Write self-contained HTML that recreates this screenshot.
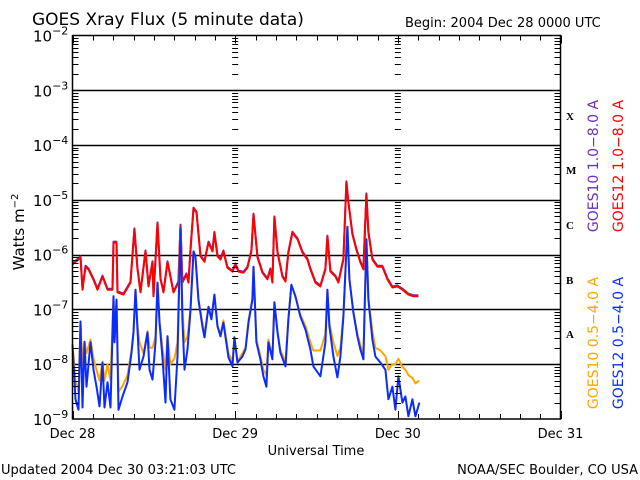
<!DOCTYPE html>
<html><head><meta charset="utf-8"><style>
html,body{margin:0;padding:0;background:#fff;}
svg{display:block;font-family:"DejaVu Sans","Liberation Sans",sans-serif;}
</style></head><body>
<svg id="chart" width="640" height="480" viewBox="0 0 640 480">
<text x="32" y="25" font-size="17" fill="#000">GOES Xray Flux (5 minute data)</text>
<text x="405" y="27" font-size="13" fill="#000">Begin:  2004 Dec 28 0000 UTC</text>
<g id="grid"></g>
<g id="series"></g>
<g id="axes"></g>
<text transform="translate(24,232) rotate(-90)" text-anchor="middle" font-size="15" fill="#000">Watts m<tspan dy="-6" font-size="10">−2</tspan></text>
<text x="316" y="455" text-anchor="middle" font-size="13" fill="#000">Universal Time</text>
<text x="1" y="474" font-size="13" fill="#000">Updated 2004 Dec 30 03:21:03 UTC</text>
<text x="638" y="474" text-anchor="end" font-size="13" fill="#000">NOAA/SEC Boulder, CO USA</text>
<g font-family="'Liberation Serif',serif" font-weight="bold" font-size="11" fill="#000">
<text x="566" y="120">X</text>
<text x="566" y="174">M</text>
<text x="566" y="229">C</text>
<text x="566" y="284">B</text>
<text x="566" y="338">A</text>
</g>
<g font-size="14">
<text transform="translate(598,166) rotate(-90)" text-anchor="middle" fill="#6a2fc4">GOES10 1.0−8.0 A</text>
<text transform="translate(623,166) rotate(-90)" text-anchor="middle" fill="#ff0000">GOES12 1.0−8.0 A</text>
<text transform="translate(598,343) rotate(-90)" text-anchor="middle" fill="#ffa500">GOES10 0.5−4.0 A</text>
<text transform="translate(623,343) rotate(-90)" text-anchor="middle" fill="#0a2cff">GOES12 0.5−4.0 A</text>
</g>
</svg>
<script>
const dayLabels = ["Dec 28","Dec 29","Dec 30","Dec 31"];
const decadeExps = [-2,-3,-4,-5,-6,-7,-8,-9];
const longTimes = [0,1.18,1.47,1.92,2.36,3.10,3.69,4.42,5.16,5.90,6.05,6.49,6.64,7.52,8.55,9.14,9.59,10.03,10.77,11.21,11.80,11.95,12.54,12.98,13.42,14.01,14.90,15.63,15.93,16.22,16.81,17.11,17.40,17.85,18.29,18.88,19.47,20.06,20.65,20.94,21.39,21.83,22.27,22.86,23.60,24.04,24.48,25.22,25.81,26.40,26.70,27.29,28.02,28.76,29.20,29.50,29.79,30.24,30.97,31.42,31.86,32.45,33.19,33.92,34.66,35.10,35.84,36.58,37.32,37.61,38.05,38.79,39.23,39.97,40.41,40.71,41.30,41.89,42.48,42.92,43.36,43.66,44.25,44.99,45.72,46.46,47.20,47.94,48.67,49.56,50.29,51.03];
const goes12LongLog = [-6.18,-6.05,-6.64,-6.22,-6.27,-6.46,-6.64,-6.40,-6.64,-6.64,-5.78,-5.78,-6.69,-6.73,-6.51,-5.54,-6.27,-6.69,-5.94,-6.58,-6.14,-6.76,-5.43,-6.45,-6.69,-6.14,-6.69,-6.51,-5.47,-6.51,-6.36,-6.51,-5.94,-5.16,-5.23,-6.03,-6.13,-5.78,-5.94,-5.60,-6.03,-6.09,-5.94,-6.24,-6.31,-6.18,-6.31,-6.33,-6.24,-5.94,-5.27,-6.05,-6.33,-6.45,-6.27,-6.51,-5.32,-5.96,-6.40,-6.49,-5.96,-5.60,-5.72,-5.96,-6.09,-6.27,-6.51,-6.58,-6.27,-5.67,-6.31,-6.40,-6.51,-6.09,-4.68,-5.05,-5.63,-5.91,-6.14,-6.27,-4.90,-5.60,-6.09,-6.22,-6.22,-6.45,-6.60,-6.58,-6.64,-6.73,-6.76,-6.76];
const goes10LongLog = goes12LongLog.slice();
const shortTimes = [0,0.44,0.88,1.18,1.47,1.77,2.06,2.65,3.10,3.54,3.98,4.42,4.72,5.16,5.60,6.05,6.19,6.49,6.78,7.37,8.11,8.70,9.00,9.29,9.59,9.88,10.47,11.06,11.36,11.80,12.24,12.54,12.83,13.27,13.72,14.01,14.45,15.04,15.49,15.93,16.22,16.52,16.96,17.40,17.85,18.14,18.58,19.17,19.47,20.06,20.50,20.94,21.39,21.83,22.27,23.01,23.60,23.89,24.34,25.07,25.52,25.96,26.55,26.70,27.14,27.73,28.17,28.61,28.91,29.50,29.79,30.24,30.68,31.42,31.86,32.30,32.89,33.63,34.37,35.10,35.55,36.58,37.32,37.61,37.91,38.50,39.09,39.53,39.97,40.56,40.86,41.45,42.04,42.48,42.92,43.36,43.66,44.25,44.69,45.43,46.17,46.61,47.20,47.64,48.08,48.67,49.12,49.56,50.15,50.59,51.18];
const goes12ShortLog = [-7.64,-8.64,-8.83,-7.22,-8.79,-7.59,-8.41,-7.60,-8.10,-8.41,-8.77,-7.97,-8.79,-8.33,-8.79,-6.76,-7.60,-6.82,-8.83,-8.59,-8.33,-7.79,-7.42,-6.64,-7.37,-8.10,-7.86,-7.42,-8.10,-8.28,-7.60,-6.51,-7.24,-7.86,-8.70,-7.49,-8.64,-8.83,-7.86,-5.51,-7.18,-8.10,-7.73,-7.04,-5.94,-6.03,-6.82,-7.31,-7.51,-6.95,-7.18,-6.73,-7.31,-7.49,-7.24,-7.88,-8.04,-7.51,-7.97,-7.86,-7.73,-7.24,-6.82,-6.22,-7.60,-7.91,-8.22,-8.41,-7.60,-7.91,-6.87,-7.42,-7.79,-8.04,-7.18,-6.55,-6.76,-7.13,-7.37,-7.73,-8.04,-8.22,-7.60,-6.64,-7.31,-7.86,-8.24,-7.86,-7.13,-5.49,-6.45,-7.06,-7.49,-7.73,-7.91,-5.72,-6.82,-7.55,-7.86,-7.97,-8.10,-8.64,-8.41,-8.83,-8.22,-8.70,-8.59,-8.95,-8.64,-8.95,-8.70];
const goes10ShortLog = [-7.64,-8.3,-8.5,-7.22,-8.0,-7.59,-7.8,-7.55,-7.9,-8.1,-8.3,-7.95,-8.3,-8.0,-8.3,-6.76,-7.6,-6.82,-8.5,-8.4,-8.2,-7.75,-7.4,-6.64,-7.3,-7.6,-7.8,-7.4,-7.7,-7.7,-7.5,-6.51,-7.2,-7.7,-8.1,-7.49,-8.0,-7.9,-7.6,-5.51,-7.0,-7.6,-7.5,-7.0,-5.94,-6.03,-6.8,-7.25,-7.45,-6.95,-7.18,-6.73,-7.3,-7.45,-7.2,-7.8,-7.95,-7.5,-7.95,-7.8,-7.7,-7.2,-6.8,-6.22,-7.55,-7.85,-8.1,-8.2,-7.55,-7.85,-6.87,-7.4,-7.75,-7.95,-7.15,-6.55,-6.76,-7.1,-7.3,-7.6,-7.75,-7.75,-7.45,-6.64,-7.25,-7.6,-7.85,-7.7,-7.1,-5.49,-6.45,-7.05,-7.45,-7.65,-7.85,-5.72,-6.8,-7.4,-7.7,-7.75,-7.85,-8.1,-8.0,-8.0,-7.9,-8.05,-8.1,-8.2,-8.25,-8.35,-8.3];

const NS='http://www.w3.org/2000/svg';
const L=72.5, R=560.5, T=35.5, B=419;
const xScale = h => L + h*(R-L)/72;
const yScale = lg => T + (-2 - lg)*(B-T)/7;
function mk(tag, attrs, parent){const e=document.createElementNS(NS,tag);for(const k in attrs)e.setAttribute(k,attrs[k]);parent.appendChild(e);return e;}
const grid=document.getElementById('grid'), axes=document.getElementById('axes'), series=document.getElementById('series');

decadeExps.forEach(ex=>{
  const y=yScale(ex);
  if(ex!==-2 && ex!==-9){
    const ln=mk('line',{x1:L,x2:R,y1:Math.round(y)+0.5,y2:Math.round(y)+0.5,stroke:'#000','stroke-width':1.5},grid);
    
    
  }
  const t=mk('text',{x:33,y:y+6,'font-size':15,fill:'#000'},axes);
  
  
  t.textContent='10';
  const s=mk('tspan',{dy:-7,'font-size':11},t); s.textContent='−'+(-ex);
});
const tickX=[L, xScale(24), xScale(48), R];
for(let ex=-9; ex<-2; ex++){
  for(let m=2;m<=9;m++){
    const y=Math.round(yScale(ex+Math.log10(m)))+0.5;
    tickX.forEach((x,i)=>{
      let x1,x2;
      if(i===0){x1=L;x2=L+6;} else if(i===3){x1=R-6;x2=R;} else {x1=x-3;x2=x+3;}
      mk('line',{x1:x1,x2:x2,y1:y,y2:y,stroke:'#000','stroke-width':1},axes);
    });
  }
}
for(let h=0;h<=72;h+=3){
  const x=Math.round(xScale(h))+0.5, len=(h%24===0)?8:5;
  mk('line',{x1:x,x2:x,y1:B,y2:B-len,stroke:'#000','stroke-width':1},axes);
  mk('line',{x1:x,x2:x,y1:T,y2:T+len,stroke:'#000','stroke-width':1},axes);
}
dayLabels.forEach((d,i)=>{
  const t=mk('text',{x:xScale(i*24),y:438,'text-anchor':'middle','font-size':13,fill:'#000'},axes);
  
  
  t.textContent=d;
});
const frame=mk('rect',{x:L,y:T,width:R-L,height:B-T,fill:'none',stroke:'#000','stroke-width':1.5},axes);



function linePath(times, vals, dy){
  let d='';
  const n=Math.min(times.length, vals.length);
  for(let i=0;i<n;i++){
    const x=xScale(times[i]), y=Math.min(B, yScale(vals[i])+dy);
    d+=(i===0?'M':' L')+x.toFixed(1)+' '+y.toFixed(1);
  }
  return d;
}
const p1=mk('path',{d:linePath(longTimes,goes10LongLog,-1),fill:'none',stroke:'#6a2fc4','stroke-width':2,'stroke-linejoin':'round'},series);


const p2=mk('path',{d:linePath(longTimes,goes12LongLog,0),fill:'none',stroke:'#ff0000','stroke-width':2,'stroke-linejoin':'round'},series);


const p3=mk('path',{d:linePath(shortTimes,goes10ShortLog,0),fill:'none',stroke:'#ffa500','stroke-width':2,'stroke-linejoin':'round'},series);


const p4=mk('path',{d:linePath(shortTimes,goes12ShortLog,0),fill:'none',stroke:'#0a2cff','stroke-width':2,'stroke-linejoin':'round'},series);


</script>
</body></html>
